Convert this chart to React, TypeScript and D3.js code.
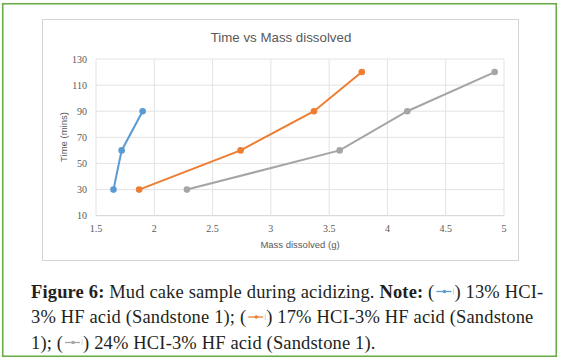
import React, { useEffect, useRef } from "react";
import * as d3 from "d3";

const title = "Time vs Mass dissolved";
const xTitle = "Mass dissolved (g)";
const yTitle = "Time (mins)";
const xTicks = [1.5, 2, 2.5, 3, 3.5, 4, 4.5, 5];
const yTicks = [10, 30, 50, 70, 90, 110, 130];

const seriesNames = ["13% HCI-3% HF acid", "17% HCI-3% HF acid", "24% HCI-3% HF acid"];
const seriesColors = ["#5b9bd5", "#ed7d31", "#a5a5a5"];
const timeValues = [30, 60, 90, 120];
const mass13 = [1.65, 1.72, 1.9];
const mass17 = [1.87, 2.74, 3.37, 3.78];
const mass24 = [2.28, 3.59, 4.17, 4.92];
const massSeries = [mass13, mass17, mass24];

const W = 563;
const H = 362;

export default function App() {
  const capRef = useRef<SVGGElement | null>(null);

  const x = d3.scaleLinear().domain([1.5, 5]).range([96, 504]);
  const y = d3.scaleLinear().domain([10, 130]).range([215.7, 59]);
  const line = d3
    .line<[number, number]>()
    .x((d) => x(d[0]))
    .y((d) => y(d[1]));

  useEffect(() => {
    const g = d3.select(capRef.current);
    g.selectAll("*").remove();
    const fontSize = 18.5;
    const lines: Array<Array<any>> = [
      [
        { t: "Figure 6:", b: true },
        { t: " Mud cake sample during acidizing. " },
        { t: "Note:", b: true },
        { t: " (" },
        { glyph: 0 },
        { t: ") 13% HCI-" },
      ],
      [{ t: "3% HF acid (Sandstone 1); (" }, { glyph: 1 }, { t: ") 17% HCI-3% HF acid (Sandstone" }],
      [{ t: "1); (" }, { glyph: 2 }, { t: ") 24% HCI-3% HF acid (Sandstone 1)." }],
    ];
    const baselines = [297.5, 323, 348.5];
    lines.forEach((parts, li) => {
      let cx = 31;
      const by = baselines[li];
      parts.forEach((p) => {
        if (p.glyph !== undefined) {
          const gw = 20;
          const gl = g.append("g");
          gl.append("line")
            .attr("x1", cx + 2)
            .attr("x2", cx + gw - 3)
            .attr("y1", by - 6)
            .attr("y2", by - 6)
            .attr("stroke", seriesColors[p.glyph])
            .attr("stroke-width", 1.3);
          gl.append("circle")
            .attr("cx", cx + gw / 2)
            .attr("cy", by - 6)
            .attr("r", 1.8)
            .attr("fill", seriesColors[p.glyph]);
          gl.append("line")
            .attr("x1", cx + gw - 1)
            .attr("x2", cx + gw - 1)
            .attr("y1", by - 9)
            .attr("y2", by - 3)
            .attr("stroke", "#c8c8c8")
            .attr("stroke-width", 0.8);
          cx += gw;
        } else {
          const t = g
            .append("text")
            .attr("x", cx)
            .attr("y", by)
            .attr("font-family", "'Liberation Serif', serif")
            .attr("font-size", fontSize)
            .attr("letter-spacing", 0.15)
            .attr("font-weight", p.b ? "bold" : "normal")
            .attr("fill", "#231f20")
            .style("white-space", "pre")
            .attr("xml:space", "preserve")
            .text(p.t);
          const node = t.node() as SVGTextElement;
          cx += node.getComputedTextLength();
        }
      });
    });
  }, []);

  return (
    <svg
      width={W}
      height={H}
      style={{ position: "absolute", left: 0, top: 0, background: "#fff" }}
    >
      <rect x={0} y={0} width={W} height={H} fill="#fff" />
      <rect x={2.75} y={3.75} width={553.5} height={352.5} fill="none" stroke="#6aab47" strokeWidth={1.6} />
      <rect x={42.5} y={19.5} width={476} height={241} fill="#fff" stroke="#d4d4d4" strokeWidth={1} />
      <text
        x={281}
        y={41.7}
        textAnchor="middle"
        fontFamily="'Liberation Sans', Arial, sans-serif"
        fontSize={13.3}
        fill="#595959"
      >
        {title}
      </text>
      <g>
        {yTicks.map((t) => (
          <line key={"gy" + t} x1={x(1.5)} x2={x(5)} y1={y(t)} y2={y(t)} stroke={t === 10 ? "#d0d0d0" : "#e3e3e3"} strokeWidth={1} />
        ))}
        {xTicks.map((t) => (
          <line key={"gx" + t} x1={x(t)} x2={x(t)} y1={y(130)} y2={y(10)} stroke="#e3e3e3" strokeWidth={1} />
        ))}
      </g>
      <g fontFamily="'Liberation Serif', serif" fontSize={10} fill="#595959">
        {yTicks.map((t) => (
          <text key={"ty" + t} x={87} y={y(t)} dy="0.35em" textAnchor="end">
            {t}
          </text>
        ))}
        {xTicks.map((t) => (
          <text key={"tx" + t} x={x(t)} y={231.5} textAnchor="middle">
            {t}
          </text>
        ))}
      </g>
      <text
        x={300}
        y={247.5}
        textAnchor="middle"
        fontFamily="'Liberation Sans', Arial, sans-serif"
        fontSize={9.5}
        fill="#595959"
      >
        {xTitle}
      </text>
      <text
        transform="translate(67,137) rotate(-90)"
        textAnchor="middle"
        fontFamily="'Liberation Sans', Arial, sans-serif"
        fontSize={9.5}
        fill="#595959"
      >
        {yTitle}
      </text>
      {massSeries.map((ms, i) => {
        const pts: [number, number][] = ms.map((m, j) => [m, timeValues[j]]);
        return (
          <g key={seriesNames[i]}>
            <path d={line(pts) || ""} fill="none" stroke={seriesColors[i]} strokeWidth={2} />
            {pts.map((p, j) => (
              <circle key={j} cx={x(p[0])} cy={y(p[1])} r={3.3} fill={seriesColors[i]} />
            ))}
          </g>
        );
      })}
      <g ref={capRef} />
    </svg>
  );
}
